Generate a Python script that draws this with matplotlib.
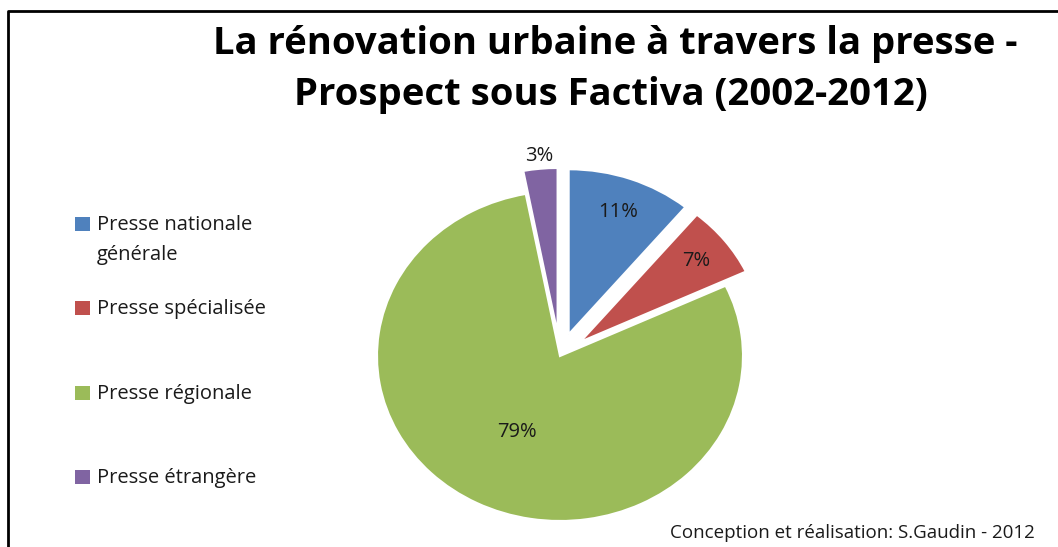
import matplotlib
matplotlib.use('Agg')
import matplotlib.pyplot as plt
from matplotlib.patches import Rectangle
from matplotlib.lines import Line2D
import numpy as np

# press share of articles on urban renewal, 2002-2012
categories = ['Presse nationale\ngénérale', 'Presse spécialisée', 'Presse régionale', 'Presse étrangère']
shares = [11, 7, 79, 3]
colors = ['#4F81BD', '#C0504D', '#9BBB59', '#8064A2']
explode = [0.14, 0.14, 0.0, 0.14]
label_dist = [0.79, 0.80, 0.52, 1.08]

title_lines = ['La rénovation urbaine à travers la presse -',
               'Prospect sous Factiva (2002-2012)']
credit = 'Conception et réalisation: S.Gaudin - 2012'

W, H = 1058, 547
plt.rcParams['font.family'] = ['Open Sans', 'DejaVu Sans']

fig = plt.figure(figsize=(W / 100, H / 100), dpi=100)


def fx(px):
    return px / W


def fy(py):
    return 1 - py / H


# pie axes, slightly squashed vertically (px per data unit)
cx, cy = 560, 356
sx, sy = 183, 165
xlim = (-1.5, 1.5)
ylim = (-1.1, 1.3)
left = cx + xlim[0] * sx
right = cx + xlim[1] * sx
top = cy - ylim[1] * sy
bottom = cy - ylim[0] * sy
ax = fig.add_axes([fx(left), fy(bottom), (right - left) / W, (bottom - top) / H])

wedges, _, autotexts = ax.pie(
    shares, colors=colors, explode=explode, startangle=90, counterclock=False,
    autopct='%1.0f%%', wedgeprops=dict(edgecolor='white', linewidth=1.5),
    textprops=dict(fontsize=14.5, color='#1a1a1a'))
ax.set_aspect('auto')
ax.set_xlim(xlim)
ax.set_ylim(ylim)

# move percentage labels per slice
for w, t, d in zip(wedges, autotexts, label_dist):
    mid = np.deg2rad((w.theta1 + w.theta2) / 2)
    x0, y0 = w.center
    t.set_position((x0 + d * np.cos(mid), y0 + d * np.sin(mid)))
    t.set_ha('center')
    t.set_va('center')

# title
fig.text(fx(615), fy(44), title_lines[0], ha='center', va='center',
         fontsize=27.5, weight='bold')
fig.text(fx(611), fy(95), title_lines[1], ha='center', va='center',
         fontsize=27.5, weight='bold')

# legend drawn by hand
base0, step = 230, 84.3
for i, (lab, col) in enumerate(zip(categories, colors)):
    b = base0 + i * step
    fig.patches.append(Rectangle((fx(75), fy(b + 1)), 15 / W, 14 / H,
                                 transform=fig.transFigure, facecolor=col,
                                 edgecolor='none'))
    for j, line in enumerate(lab.split('\n')):
        fig.text(fx(97), fy(b + j * 30), line, ha='left', va='baseline',
                 fontsize=14.5, color='#1a1a1a')

fig.text(fx(1035), fy(538), credit, ha='right', va='baseline', fontsize=13.5,
         color='#1a1a1a')

# frame
fig.add_artist(Line2D([fx(8), fx(8), fx(W + 5)], [fy(H + 5), fy(11), fy(11)],
                      transform=fig.transFigure, color='black', linewidth=2))

fig.savefig('out.png', dpi=100)
